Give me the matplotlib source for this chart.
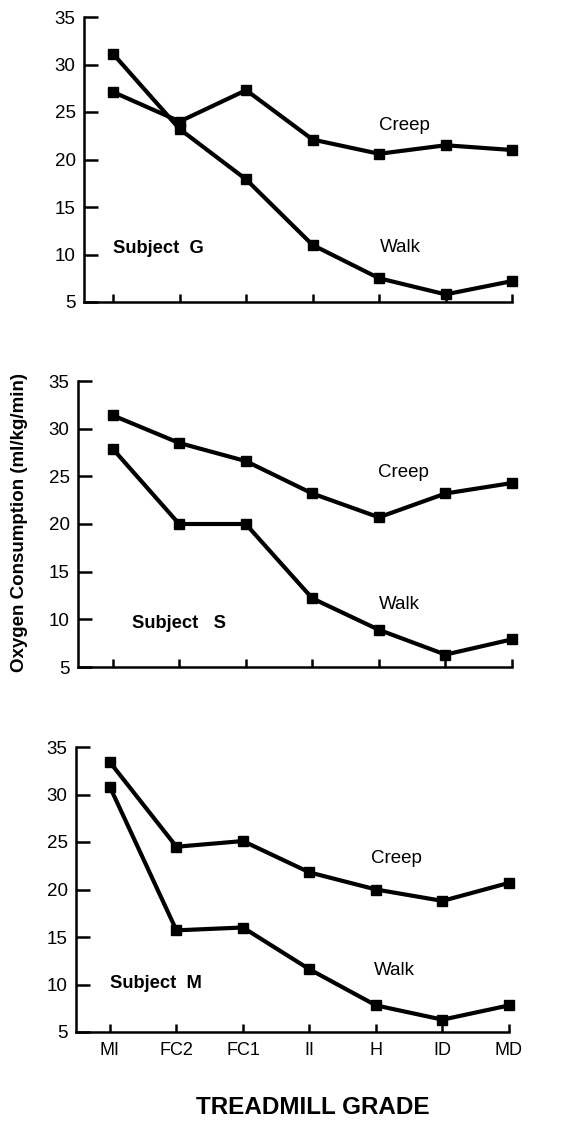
import matplotlib
matplotlib.use("Agg")
import matplotlib.pyplot as plt

plt.rcParams["font.family"] = ["Liberation Sans", "DejaVu Sans"]

grades = ["MI", "FC2", "FC1", "II", "H", "ID", "MD"]
y_ticks = [5, 10, 15, 20, 25, 30, 35]

# subject G
g_creep = [27.1, 24.0, 27.3, 22.1, 20.6, 21.5, 21.0]
g_walk = [31.1, 23.2, 17.9, 11.0, 7.5, 5.8, 7.2]
# subject S
s_creep = [31.4, 28.5, 26.6, 23.2, 20.7, 23.2, 24.3]
s_walk = [27.9, 20.0, 20.0, 12.2, 8.9, 6.3, 7.9]
# subject M
m_creep = [33.4, 24.5, 25.1, 21.8, 20.0, 18.8, 20.7]
m_walk = [30.8, 15.7, 16.0, 11.6, 7.8, 6.3, 7.8]

W, H = 564, 1122
fig = plt.figure(figsize=(W / 100, H / 100), dpi=100)

def px_axes(left, right, top, bottom):
    return fig.add_axes([left / W, 1 - bottom / H, (right - left) / W, (bottom - top) / H])

# (left px, right px, top px, bottom px, xmin, creep, walk, subject label, label pos, creep pos, walk pos)
panels = [
    (84, 512, 17, 302, -0.44, g_creep, g_walk, "Subject  G", (0.0, 10.6), (4.0, 23.6), (4.02, 10.7)),
    (78, 512, 381, 667, -0.52, s_creep, s_walk, "Subject   S", (0.29, 9.6), (3.98, 25.4), (4.0, 11.6)),
    (76, 509, 747, 1032, -0.51, m_creep, m_walk, "Subject  M", (0.0, 10.1), (3.93, 23.3), (3.97, 11.5)),
]

for i, (l, r, t, b, xmin, creep, walk, subj, sp, cp, wp) in enumerate(panels):
    ax = px_axes(l, r, t, b)
    x = list(range(len(grades)))
    for ys in (creep, walk):
        ax.plot(x, ys, color="black", lw=3.0, marker="s", ms=7.5, mfc="black", mec="black", clip_on=False, zorder=3)
    ax.set_xlim(xmin, 6)
    ax.set_ylim(5, 35)
    ax.set_yticks(y_ticks)
    ax.set_xticks(x)
    ax.spines["top"].set_visible(False)
    ax.spines["right"].set_visible(False)
    for s in ("left", "bottom"):
        ax.spines[s].set_linewidth(1.8)
    ax.tick_params(axis="y", direction="in", length=10, width=1.8, pad=6, labelsize=13.5)
    ax.tick_params(axis="x", direction="in", length=6, width=1.8, pad=7, labelsize=13)
    if i == 2:
        ax.set_xticklabels(grades)
    else:
        ax.set_xticklabels([])
    ax.text(sp[0], sp[1], subj, fontsize=13.2, fontweight="bold", ha="left", va="center")
    ax.text(cp[0], cp[1], "Creep", fontsize=13.5, ha="left", va="center")
    ax.text(wp[0], wp[1], "Walk", fontsize=13.5, ha="left", va="center")

fig.text(20 / W, 1 - 522 / H, "Oxygen Consumption (ml/kg/min)", rotation=90, ha="center", va="center",
         fontsize=13.5, fontweight="bold")
fig.text(313 / W, 1 - 1108 / H, "TREADMILL GRADE", ha="center", va="center", fontsize=17.5, fontweight="bold")

fig.savefig("out.png", dpi=100, facecolor="white")
